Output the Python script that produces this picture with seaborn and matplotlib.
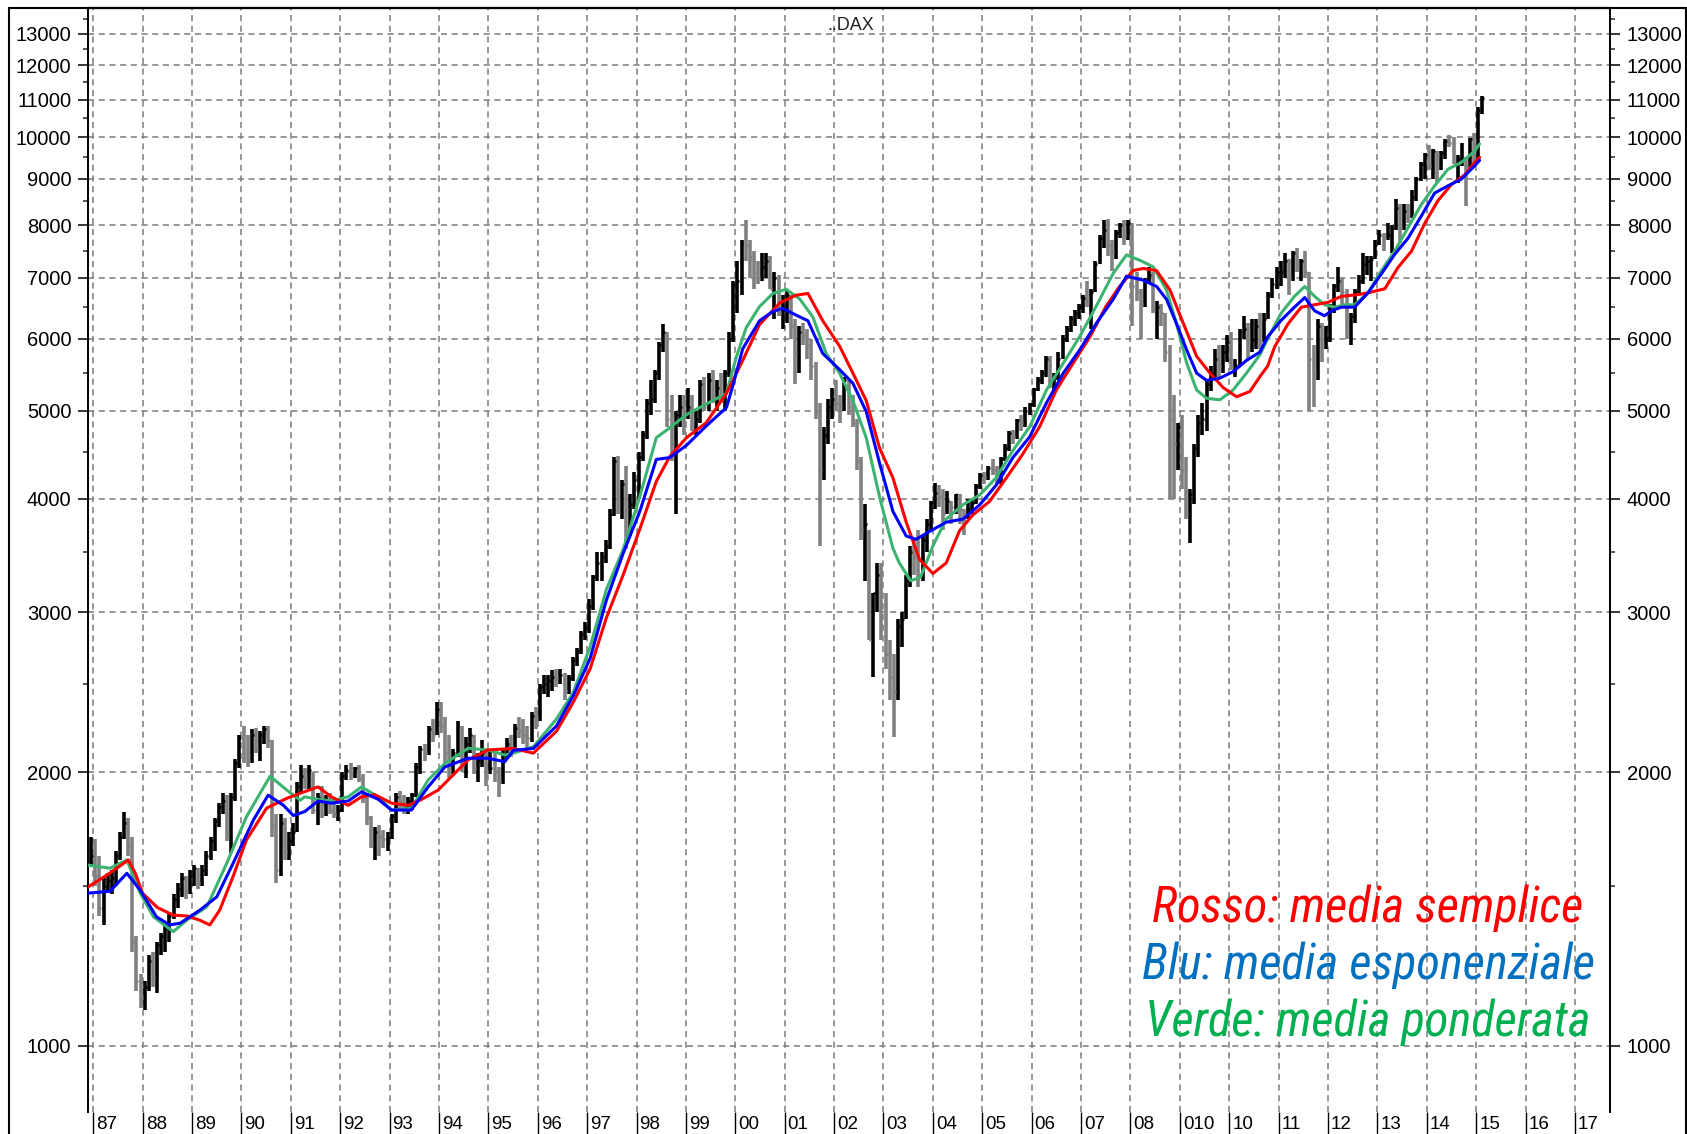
import matplotlib
matplotlib.use("Agg")
import matplotlib.pyplot as plt
import matplotlib.transforms as mtransforms
from matplotlib import font_manager
from matplotlib.lines import Line2D
from matplotlib.ticker import FixedLocator, NullFormatter
import numpy as np
import pandas as pd
import seaborn as sns


# ---- monthly bars (Dec 1986 .. Feb 2015) ----
high = [1700,
    1690, 1620, 1530, 1550, 1560, 1640, 1720, 1810, 1780, 1700, 1320, 1200,   # 87
    1180, 1260, 1270, 1300, 1330, 1360, 1400, 1470, 1510, 1550, 1540, 1560,   # 88
    1580, 1570, 1580, 1640, 1700, 1780, 1850, 1900, 1890, 1900, 2070, 2200,   # 89
    2250, 2200, 2230, 2240, 2220, 2250, 2250, 2170, 1800, 1800, 1780, 1720,   # 90
    1760, 1950, 2040, 2020, 2040, 2000, 1900, 1930, 1890, 1900, 1880, 1840,   # 91
    2000, 2040, 2050, 2030, 2040, 1990, 1900, 1790, 1740, 1750, 1730, 1720,   # 92
    1800, 1900, 1910, 1890, 1880, 1900, 2050, 2140, 2150, 2250, 2290, 2390,   # 93
    2390, 2300, 2200, 2120, 2280, 2250, 2190, 2240, 2200, 2100, 2170, 2120,   # 94
    2120, 2100, 2030, 2120, 2180, 2200, 2260, 2300, 2290, 2250, 2330, 2360,   # 95
    2500, 2560, 2560, 2590, 2600, 2600, 2570, 2560, 2680, 2740, 2860, 2930,   # 96
    3100, 3300, 3500, 3500, 3600, 3900, 4450, 4460, 4200, 4350, 4050, 4280,   # 97
    4500, 4750, 5150, 5400, 5550, 5950, 6230, 6100, 5200, 5000, 5200, 5200,   # 98
    5300, 5200, 5000, 5400, 5450, 5500, 5550, 5400, 5500, 5550, 6100, 6950,   # 99
    7300, 7700, 8100, 7700, 7500, 7300, 7450, 7450, 7400, 7100, 7050, 6700,   # 00
    6800, 6700, 6300, 6200, 6250, 6150, 6000, 5650, 5100, 4800, 5150, 5300,   # 01
    5400, 5200, 5450, 5400, 5200, 4900, 4450, 3950, 3700, 3150, 3400, 3400,   # 02
    3150, 2800, 2700, 2950, 3000, 3300, 3550, 3600, 3700, 3650, 3800, 3980,   # 03
    4160, 4140, 4100, 4080, 3980, 4050, 4050, 3900, 4000, 4000, 4150, 4270,   # 04
    4280, 4350, 4420, 4350, 4450, 4600, 4750, 4760, 4900, 4950, 5050, 5100,   # 05
    5300, 5450, 5550, 5750, 5750, 5500, 5800, 6050, 6200, 6350, 6450, 6550,   # 06
    6700, 6950, 6800, 7300, 7800, 8100, 8130, 7700, 7900, 8050, 8100, 8100,   # 07
    8050, 7100, 6800, 7000, 7200, 7100, 6600, 6550, 6400, 5900, 5200, 4850,   # 08
    4950, 4450, 4100, 4600, 4950, 5100, 5400, 5600, 5850, 5900, 5900, 6050,   # 09
    6100, 5700, 6150, 6350, 6250, 6300, 6300, 6400, 6400, 6750, 7000, 7200,   # 10
    7300, 7450, 7350, 7500, 7550, 7350, 7500, 7100, 5900, 6300, 6250, 6200,   # 11
    6550, 6900, 7200, 7000, 6800, 6400, 6800, 7050, 7450, 7400, 7400, 7700,   # 12
    7900, 7850, 8050, 8000, 8550, 8450, 8450, 8450, 8750, 9050, 9400, 9600,   # 13
    9800, 9700, 9650, 9650, 9950, 10050, 10000, 9550, 9850, 9500, 9980, 10100,  # 14
    10800, 11100]                                                              # 15

low = [1580,
    1500, 1390, 1360, 1480, 1470, 1500, 1600, 1690, 1620, 1270, 1150, 1100,
    1095, 1150, 1160, 1145, 1260, 1270, 1300, 1380, 1420, 1460, 1450, 1470,
    1500, 1490, 1500, 1540, 1600, 1640, 1740, 1800, 1680, 1630, 1860, 2020,
    2050, 2030, 2050, 2100, 2060, 2150, 2130, 1700, 1510, 1540, 1600, 1600,
    1660, 1720, 1900, 1920, 1920, 1800, 1750, 1780, 1790, 1800, 1780, 1770,
    1810, 1960, 1960, 1970, 1950, 1850, 1750, 1650, 1600, 1620, 1650, 1640,
    1690, 1760, 1820, 1800, 1800, 1820, 1880, 1990, 2060, 2090, 2160, 2200,
    2210, 2050, 1970, 1990, 2080, 2000, 1970, 2100, 1990, 1950, 2030, 1930,
    1990, 1950, 1880, 1940, 2070, 2080, 2110, 2180, 2150, 2120, 2160, 2230,
    2280, 2440, 2420, 2460, 2480, 2500, 2400, 2440, 2520, 2620, 2700, 2800,
    2850, 3020, 3250, 3250, 3400, 3520, 3830, 3850, 3800, 3520, 3640, 3900,
    4000, 4400, 4650, 4950, 5100, 5400, 5800, 4800, 4400, 3850, 4800, 4700,
    4900, 4750, 4700, 4850, 5000, 5000, 5100, 5000, 5100, 5000, 5450, 5950,
    6400, 6700, 7300, 7000, 6800, 6900, 6950, 7000, 6800, 6300, 6350, 6150,
    6250, 6000, 5350, 5500, 5900, 5700, 5400, 4900, 3550, 4200, 4600, 4900,
    5000, 4850, 5000, 4950, 4800, 4300, 3600, 3250, 2800, 2550, 3000, 2800,
    2600, 2400, 2190, 2400, 2750, 2950, 3200, 3300, 3200, 3250, 3500, 3700,
    3900, 3920, 3700, 3850, 3750, 3850, 3750, 3650, 3800, 3850, 3950, 4100,
    4150, 4200, 4250, 4150, 4150, 4400, 4520, 4600, 4650, 4750, 4800, 4950,
    5050, 5250, 5350, 5450, 5300, 5200, 5400, 5700, 5950, 6100, 6200, 6300,
    6400, 6500, 6150, 6750, 7250, 7550, 7400, 7130, 7350, 7750, 7600, 7700,
    6200, 6600, 6000, 6500, 6900, 6400, 6000, 6200, 5650, 4000, 4000, 4300,
    4100, 3800, 3580, 3950, 4450, 4700, 4750, 5250, 5450, 5450, 5500, 5650,
    5550, 5450, 5600, 6000, 5700, 5800, 5850, 5850, 5950, 6300, 6650, 6800,
    6850, 7000, 6700, 6950, 7100, 6950, 7000, 5000, 5050, 5400, 5650, 5850,
    5950, 6400, 6750, 6550, 6000, 5900, 6250, 6700, 6900, 7050, 6950, 7350,
    7600, 7500, 7700, 7450, 7900, 7650, 7900, 8050, 8150, 8500, 8950, 9000,
    9200, 9000, 8900, 9200, 9450, 9750, 9350, 8900, 9300, 8400, 9200, 9300,
    9400, 10600]

close = [1620,
    1540, 1420, 1500, 1520, 1530, 1620, 1700, 1760, 1660, 1300, 1180, 1130,
    1160, 1240, 1190, 1290, 1320, 1350, 1390, 1450, 1490, 1530, 1480, 1540,
    1570, 1510, 1560, 1620, 1680, 1770, 1830, 1860, 1720, 1880, 2050, 2180,
    2100, 2060, 2200, 2120, 2200, 2230, 2170, 1750, 1560, 1760, 1640, 1680,
    1720, 1930, 1980, 1960, 2010, 1820, 1880, 1800, 1860, 1820, 1800, 1820,
    1980, 2010, 1990, 2020, 1970, 1880, 1780, 1670, 1720, 1700, 1690, 1700,
    1790, 1880, 1860, 1830, 1860, 1890, 2030, 2120, 2100, 2230, 2200, 2350,
    2250, 2100, 2010, 2100, 2250, 2040, 2150, 2200, 2020, 2060, 2100, 2000,
    2020, 2000, 1950, 2090, 2150, 2120, 2240, 2220, 2200, 2180, 2310, 2290,
    2480, 2500, 2520, 2550, 2540, 2560, 2460, 2540, 2660, 2720, 2840, 2880,
    3050, 3280, 3400, 3450, 3550, 3850, 4400, 3950, 4150, 3900, 3950, 4200,
    4450, 4700, 5100, 5150, 5500, 5900, 6100, 4900, 4600, 4950, 5050, 5000,
    5050, 4850, 4900, 5350, 5050, 5400, 5200, 5300, 5150, 5500, 6000, 6900,
    6950, 7650, 7600, 7400, 7100, 7000, 7200, 7300, 6800, 7000, 6400, 6450,
    6700, 6200, 5800, 6100, 6050, 5900, 5600, 5000, 4300, 4700, 5050, 5150,
    5100, 5050, 5400, 5050, 4850, 4400, 3700, 3750, 2800, 3150, 3300, 2900,
    2700, 2550, 2450, 2900, 2950, 3250, 3500, 3450, 3300, 3600, 3750, 3960,
    4060, 4020, 3850, 3980, 3920, 4050, 3900, 3780, 3900, 3960, 4130, 4250,
    4230, 4330, 4300, 4180, 4420, 4550, 4720, 4680, 4880, 4850, 5000, 5080,
    5280, 5400, 5500, 5700, 5400, 5450, 5700, 6000, 6150, 6300, 6400, 6500,
    6650, 6600, 6750, 7250, 7750, 7900, 7600, 7500, 7850, 8000, 7800, 8050,
    6850, 6750, 6550, 6950, 7050, 6450, 6500, 6400, 5800, 4900, 4600, 4800,
    4300, 3850, 4050, 4550, 4850, 4900, 5350, 5500, 5700, 5600, 5800, 5950,
    5600, 5620, 6100, 6150, 5950, 5980, 6200, 5950, 6300, 6700, 6900, 7100,
    7100, 7300, 7000, 7450, 7250, 7300, 7100, 5700, 5500, 6200, 5900, 6000,
    6450, 6850, 6950, 6750, 6250, 6350, 6750, 6950, 7250, 7300, 7350, 7600,
    7800, 7750, 7800, 7950, 8350, 7950, 8300, 8100, 8600, 9000, 9350, 9550,
    9300, 9650, 9550, 9600, 9900, 9850, 9400, 9450, 9470, 9300, 9950, 9800,
    10700, 11050]

# ---- moving averages (read at points along each line) ----
sma_t = [1986.9, 1987.3, 1987.71, 1987.85, 1988.0, 1988.3, 1988.62, 1988.9, 1989.16,
         1989.36, 1989.56, 1989.83, 1990.1, 1990.51, 1990.92, 1991.19, 1991.55, 1991.82,
         1992.16, 1992.43, 1992.7, 1993.04, 1993.38, 1993.65, 1993.98, 1994.25, 1994.59,
         1994.99, 1995.5, 1995.91, 1996.38, 1996.72, 1997.06, 1997.39, 1997.73, 1998.07,
         1998.4, 1998.67, 1999.01, 1999.41, 1999.82, 2000.15, 2000.49, 2000.9, 2001.23,
         2001.47, 2001.77, 2002.11, 2002.38, 2002.65, 2002.92, 2003.19, 2003.46, 2003.73,
         2004.0, 2004.27, 2004.54, 2004.81, 2005.15, 2005.49, 2005.82, 2006.16, 2006.5,
         2006.84, 2007.18, 2007.51, 2007.78, 2008.05, 2008.26, 2008.53, 2008.8, 2009.07,
         2009.34, 2009.61, 2009.88, 2010.15, 2010.42, 2010.62, 2010.78, 2010.92, 2011.19,
         2011.46, 2011.73, 2012.0, 2012.27, 2012.61, 2012.81, 2013.15, 2013.42, 2013.69,
         2013.96, 2014.23, 2014.5, 2014.77, 2014.97, 2015.07]
sma_v = [1497, 1545, 1602, 1549, 1472, 1420, 1393, 1390, 1375,
         1359, 1411, 1536, 1685, 1827, 1873, 1897, 1928, 1880,
         1840, 1880, 1890, 1850, 1840, 1868, 1912, 1978, 2065,
         2117, 2125, 2100, 2220, 2390, 2600, 2960, 3300, 3710,
         4180, 4450, 4670, 4850, 5225, 5680, 6220, 6570, 6700,
         6730, 6280, 5890, 5500, 5130, 4550, 4220, 3770, 3430,
         3310, 3400, 3690, 3840, 3975, 4220, 4480, 4800, 5270,
         5640, 6030, 6520, 6850, 7130, 7170, 7130, 6790, 6240,
         5740, 5500, 5300, 5180, 5250, 5450, 5600, 5880, 6230,
         6500, 6540, 6580, 6680, 6710, 6740, 6810, 7190, 7490,
         8040, 8520, 8870, 9090, 9380, 9500]

ema_t = [1986.9, 1987.34, 1987.68, 1987.95, 1988.28, 1988.55, 1988.76, 1989.16, 1989.5,
         1989.83, 1990.24, 1990.54, 1990.85, 1991.05, 1991.28, 1991.55, 1991.82, 1992.16,
         1992.43, 1992.77, 1993.04, 1993.44, 1993.78, 1994.12, 1994.59, 1994.99, 1995.33,
         1995.51, 1995.91, 1996.38, 1996.72, 1997.06, 1997.39, 1997.73, 1998.07, 1998.4,
         1998.67, 1999.01, 1999.41, 1999.82, 1999.95, 2000.15, 2000.49, 2000.76, 2000.96,
         2001.23, 2001.47, 2001.77, 2002.11, 2002.38, 2002.65, 2002.92, 2003.19, 2003.46,
         2003.66, 2004.0, 2004.27, 2004.61, 2004.95, 2005.28, 2005.62, 2005.96, 2006.3,
         2006.64, 2006.97, 2007.31, 2007.65, 2007.92, 2008.26, 2008.53, 2008.73, 2008.93,
         2009.14, 2009.34, 2009.54, 2009.81, 2010.08, 2010.35, 2010.62, 2010.78, 2011.05,
         2011.32, 2011.53, 2011.73, 2011.93, 2012.07, 2012.27, 2012.54, 2012.81, 2013.08,
         2013.35, 2013.62, 2013.89, 2014.16, 2014.43, 2014.7, 2014.97, 2015.07]
ema_v = [1473, 1480, 1549, 1484, 1387, 1359, 1365, 1411, 1459,
         1588, 1772, 1888, 1840, 1793, 1811, 1860, 1850, 1860,
         1904, 1868, 1818, 1818, 1928, 2028, 2073, 2073, 2055,
         2115, 2125, 2250, 2430, 2670, 3095, 3485, 3880, 4420,
         4440, 4580, 4810, 5040, 5330, 5850, 6280, 6430, 6480,
         6370, 6280, 5780, 5550, 5360, 4990, 4380, 3875, 3640,
         3610, 3700, 3770, 3800, 3940, 4140, 4440, 4680, 5100,
         5500, 5830, 6240, 6630, 7030, 6960, 6850, 6630, 6240,
         5830, 5500, 5400, 5430, 5520, 5680, 5800, 6030, 6285,
         6500, 6660, 6440, 6360, 6440, 6500, 6500, 6740, 7070,
         7430, 7740, 8190, 8680, 8840, 8990, 9300, 9430]

wma_t = [1986.9, 1987.34, 1987.68, 1987.95, 1988.22, 1988.62, 1988.89, 1989.3, 1989.7,
         1990.1, 1990.58, 1990.92, 1991.19, 1991.28, 1991.55, 1991.82, 1992.16, 1992.43,
         1992.77, 1993.04, 1993.44, 1993.78, 1994.12, 1994.59, 1994.99, 1995.33, 1995.51,
         1995.91, 1996.38, 1996.72, 1997.06, 1997.39, 1997.73, 1998.07, 1998.4, 1998.61,
         1999.01, 1999.41, 1999.82, 2000.02, 2000.22, 2000.49, 2000.76, 2001.03, 2001.3,
         2001.57, 2001.84, 2002.11, 2002.38, 2002.65, 2002.92, 2003.19, 2003.32, 2003.55,
         2003.75, 2004.0, 2004.27, 2004.61, 2004.95, 2005.28, 2005.62, 2005.96, 2006.3,
         2006.64, 2006.97, 2007.31, 2007.65, 2007.92, 2008.19, 2008.46, 2008.73, 2008.93,
         2009.14, 2009.34, 2009.54, 2009.81, 2010.08, 2010.35, 2010.62, 2010.78, 2011.05,
         2011.32, 2011.53, 2011.73, 2011.93, 2012.14, 2012.34, 2012.54, 2012.81, 2013.08,
         2013.35, 2013.62, 2013.89, 2014.16, 2014.43, 2014.7, 2014.97, 2015.07]
wma_v = [1581, 1569, 1602, 1473, 1387, 1336, 1375, 1423, 1588,
         1787, 1981, 1912, 1864, 1880, 1868, 1860, 1880, 1928,
         1880, 1818, 1826, 1962, 2046, 2126, 2117, 2090, 2100,
         2134, 2290, 2450, 2750, 3180, 3520, 4030, 4670, 4760,
         4950, 5085, 5225, 5730, 6170, 6510, 6730, 6800, 6640,
         6340, 5780, 5500, 5130, 4670, 4020, 3530, 3400, 3250,
         3280, 3550, 3800, 3940, 4040, 4220, 4520, 4800, 5270,
         5640, 6030, 6520, 7080, 7420, 7320, 7200, 6790, 6240,
         5640, 5270, 5160, 5140, 5270, 5500, 5760, 6000, 6400,
         6680, 6850, 6680, 6540, 6500, 6540, 6540, 6740, 7130,
         7490, 7950, 8430, 8840, 9220, 9380, 9650, 9830]

year_ticks = list(range(1987, 2018))
year_labels = ["87", "88", "89", "90", "91", "92", "93", "94", "95", "96", "97",
               "98", "99", "00", "01", "02", "03", "04", "05", "06", "07", "08",
               "010", "10", "11", "12", "13", "14", "15", "16", "17"]
y_major = [1000, 2000, 3000, 4000, 5000, 6000, 7000, 8000, 9000, 10000, 11000, 12000, 13000]
y_minor = [1500, 2500, 3500, 4500, 5500, 6500, 7500, 8500, 9500, 10500, 11500, 12500, 13500]

legend_lines = [("Rosso: media semplice", "#ff0000"),
                ("Blu: media esponenziale", "#0070c0"),
                ("Verde: media ponderata", "#00b050")]


def pick_font(*names):
    for n in names:
        try:
            font_manager.findfont(font_manager.FontProperties(family=n),
                                  fallback_to_default=False)
            return n
        except ValueError:
            pass
    return None


sns.set_style("white")
plt.rcParams['font.family'] = ['Liberation Sans', 'DejaVu Sans']

narrow = pick_font("Liberation Sans Narrow", "Arial Narrow")
cond = pick_font("Roboto Condensed", "Roboto") or "DejaVu Sans"

W, H = 1687, 1134
fig = plt.figure(figsize=(W / 100, H / 100), dpi=100)
ax = fig.add_axes([88 / W, 1 - 1112 / H, (1610 - 88) / W, (1112 - 8) / H])

# bars
months = pd.period_range("1986-12", "2015-02", freq="M")
bars = pd.DataFrame({
    "t": np.asarray(months.year) + (np.asarray(months.month) - 0.5) / 12,
    "high": high, "low": low, "close": close,
})
up = bars["close"].diff().fillna(1) >= 0
bar_cols = np.where(up, "black", "#808080")
ax.vlines(bars["t"], bars["low"], bars["high"], colors=bar_cols, linewidth=2.6, zorder=2)
ax.hlines(bars["close"], bars["t"], bars["t"] + 0.04, colors=bar_cols, linewidth=1.8, zorder=2)

# moving averages
sns.lineplot(x=wma_t, y=wma_v, ax=ax, color="#3cb371", linewidth=2.2, zorder=3)
sns.lineplot(x=sma_t, y=sma_v, ax=ax, color="#ff0000", linewidth=2.2, zorder=3)
sns.lineplot(x=ema_t, y=ema_v, ax=ax, color="#0000ff", linewidth=2.2, zorder=4)

ax.set_yscale("log")
ax.set_ylim(846, 13870)
ax.set_xlim(1986.893, 2017.71)

ax.yaxis.set_major_locator(FixedLocator(y_major))
ax.yaxis.set_minor_locator(FixedLocator(y_minor))
ax.yaxis.set_minor_formatter(NullFormatter())
ax.set_yticklabels([str(v) for v in y_major])
ax.tick_params(axis="y", which="major", direction="out", length=7, width=1.1,
               labelsize=14.5, left=True, right=True, labelleft=True, labelright=True,
               pad=5, colors="black")
ax.tick_params(axis="y", which="minor", direction="out", length=3.5, width=1.1,
               left=True, right=True)

ax.set_xticks(year_ticks)
ax.set_xticklabels([])
ax.tick_params(axis="x", which="major", direction="out", length=16, width=1.0,
               bottom=True, colors="black")

ax.grid(True, which="major", axis="both", linestyle=(0, (4, 3)), color="#7a7a7a",
        linewidth=1.1, zorder=0)
ax.set_axisbelow(True)
ax.set_xlabel("")
ax.set_ylabel("")

for side in ["left", "right"]:
    ax.spines[side].set_color("black")
    ax.spines[side].set_linewidth(1.4)
ax.spines["top"].set_linewidth(1.6)
ax.spines["top"].set_color("black")
ax.spines["bottom"].set_visible(False)

# year labels to the right of each tick
trans = mtransforms.blended_transform_factory(ax.transData, ax.transAxes)
off = mtransforms.ScaledTranslation(3 / 100, -4 / 100, fig.dpi_scale_trans)
lab_size = 15 if narrow else 13.5
lab_family = narrow or "Liberation Sans"
for yr, lab in zip(year_ticks, year_labels):
    ax.text(yr, 0, lab, transform=trans + off, ha="left", va="top",
            fontsize=lab_size, family=lab_family, color="black")

# title
fig.text(851 / W, 1 - 25 / H, "..DAX", ha="center", va="center", fontsize=13,
         color="#222222")

# coloured notes
base_y = [922, 979, 1036]
for (txt, col), by in zip(legend_lines, base_y):
    fig.text(1368 / W, 1 - by / H, txt, ha="center", va="baseline", color=col,
             fontsize=35, style="italic", family=cond)

# outer frame
for xs, ys in [([9, 9], [8, H]), ([9, 1686], [8, 8]), ([1686, 1686], [8, H])]:
    fig.add_artist(Line2D([x / W for x in xs], [1 - y / H for y in ys],
                          transform=fig.transFigure, color="black", linewidth=1.5))

fig.savefig("out.png", dpi=100, facecolor="white")
